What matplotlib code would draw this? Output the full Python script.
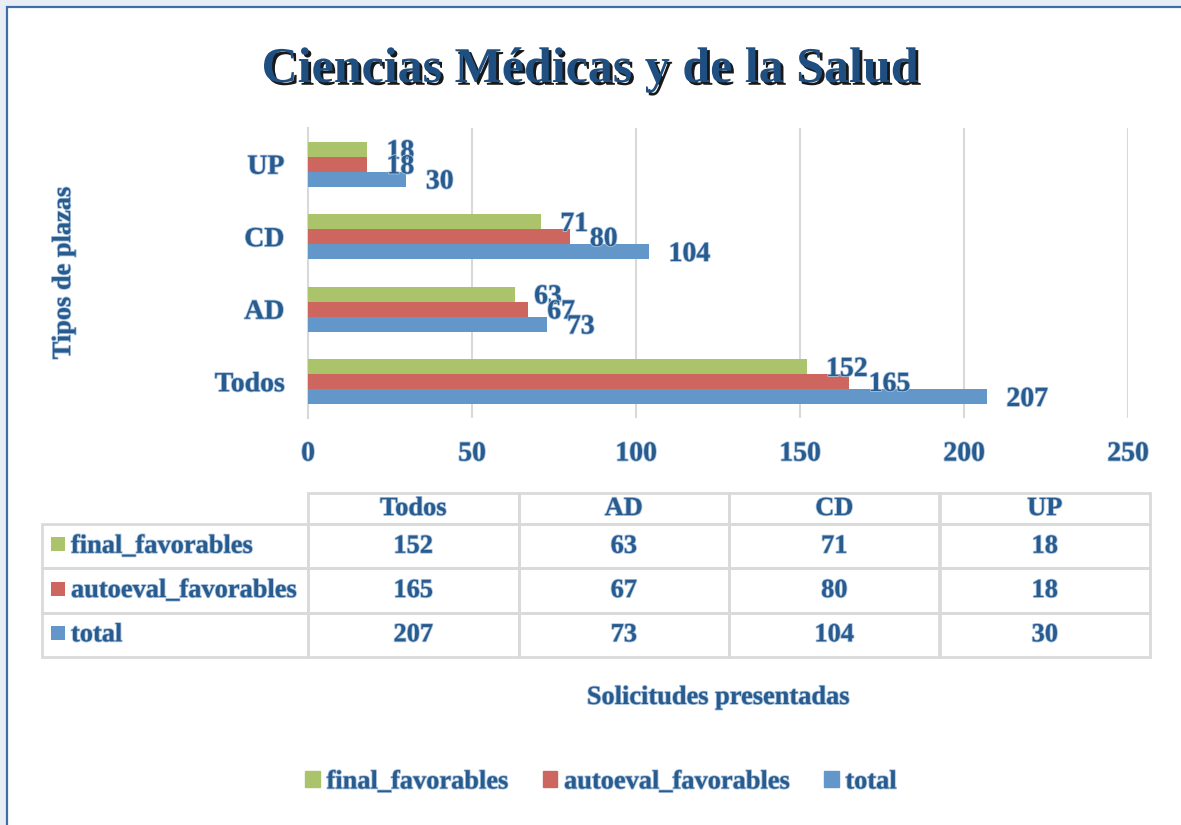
#%% Ciencias Médicas y de la Salud - solicitudes por tipo de plaza
import numpy as np
import matplotlib.pyplot as plt
import matplotlib.patches as mpatches
import matplotlib.patheffects as pe

#%% Data
categorias = ['Todos', 'AD', 'CD', 'UP']
final_favorables = [152, 63, 71, 18]
autoeval_favorables = [165, 67, 80, 18]
total = [207, 73, 104, 30]
series = ['final_favorables', 'autoeval_favorables', 'total']
x_ticks = [0, 50, 100, 150, 200, 250]

#%% Style
plt.rcParams['font.family'] = ['Liberation Serif', 'DejaVu Serif']
plt.rcParams['font.weight'] = 'bold'
plt.rcParams['axes.labelweight'] = 'bold'
txt_col = '#285B8E'
colores = {'final_favorables': '#ABC46B',
           'autoeval_favorables': '#CD665F',
           'total': '#6396C9'}
glow = [pe.withStroke(linewidth=1.2, foreground='#A9C2DD')]

fig = plt.figure(figsize=(11.81, 8.25), dpi=100)
fig.patch.set_facecolor('#E9EEF6')
# white chart area with blue frame (right/bottom run off the picture)
frame = mpatches.Rectangle((7 / 1181, -0.1), 1.2, 1.1 - 7 / 825,
                           transform=fig.transFigure, facecolor='white',
                           edgecolor='#3D6FA5', linewidth=1.6, zorder=-10)
fig.patches.append(frame)

ax = fig.add_axes([308 / 1181, 1 - 418 / 825, 820 / 1181, 290 / 825])

y = np.arange(len(categorias))
h = 0.207
ax.barh(y + h, final_favorables, height=h, color=colores['final_favorables'], zorder=3)
ax.barh(y, autoeval_favorables, height=h, color=colores['autoeval_favorables'], zorder=3)
ax.barh(y - h, total, height=h, color=colores['total'], zorder=3)

# data labels
for vals, off in [(final_favorables, h), (autoeval_favorables, 0), (total, -h)]:
    for yi, v in zip(y, vals):
        ax.annotate(str(v), (v, yi + off), xytext=(14, -2), textcoords='offset points',
                    ha='left', va='center', fontsize=20, color=txt_col,
                    path_effects=glow, zorder=4)

ax.set_xlim(0, 250)
ax.set_ylim(-0.5, 3.5)
ax.set_xticks(x_ticks)
ax.set_yticks(y)
ax.set_yticklabels(categorias)
ax.tick_params(axis='both', length=0, labelsize=20, labelcolor=txt_col)
ax.tick_params(axis='x', pad=17)
ax.tick_params(axis='y', pad=17)
for lab in ax.get_xticklabels() + ax.get_yticklabels():
    lab.set_path_effects(glow)
ax.grid(axis='x', color='#D9D9D9', linewidth=1.5, zorder=0)
for s in ['top', 'right', 'bottom']:
    ax.spines[s].set_visible(False)
ax.spines['left'].set_color('#D9D9D9')
ax.spines['left'].set_linewidth(1.5)

ax.set_ylabel('Tipos de plazas', fontsize=19, color=txt_col, path_effects=glow)
ax.yaxis.set_label_coords(-0.284, 0.5)
ax.set_xlabel('Solicitudes presentadas', fontsize=19, color=txt_col, path_effects=glow)
ax.xaxis.set_label_coords(0.5, (418 - 686) / 290)

#%% Data table under the axis
filas = [[s] + [str(v) for v in vals]
         for s, vals in zip(series, [final_favorables, autoeval_favorables, total])]
tabla = ax.table(cellText=filas, colLabels=[''] + categorias,
                 colWidths=[266, 210.5, 210.5, 210.5, 210.5],
                 cellLoc='center',
                 bbox=[(42 - 308) / 820, (418 - 657) / 290, 1108 / 820, 164 / 290])
tabla.auto_set_font_size(False)
for (r, c), cell in tabla.get_celld().items():
    cell.set_edgecolor('#DADADA')
    cell.set_linewidth(2)
    cell.set_facecolor('none')
    cell.get_text().set_fontsize(19)
    cell.get_text().set_color(txt_col)
    cell.get_text().set_path_effects(glow)
    if r == 0:
        cell.set_height(cell.get_height() * 31 / 44)
        if c == 0:
            cell.visible_edges = ''
    if c == 0 and r > 0:
        cell.get_text().set_ha('left')
        cell.PAD = 0.109

fig.canvas.draw()
# legend keys inside the row label cells
for r, s in enumerate(series, start=1):
    cell = tabla[r, 0]
    kx = cell.get_x() + 9 / 820
    ky = cell.get_y() + cell.get_height() / 2 - 5 / 290
    ax.add_patch(mpatches.Rectangle((kx, ky), 14 / 820, 14 / 290, transform=ax.transAxes,
                                    facecolor=colores[s], edgecolor='none', clip_on=False))

#%% Title and legend
fig.text(0.5, 1 - 82 / 825, 'Ciencias Médicas y de la Salud', ha='center', va='baseline',
         fontsize=36, color='#1F4E80',
         path_effects=[pe.SimplePatchShadow(offset=(2, -2), shadow_rgbFace='black', alpha=0.9),
                       pe.Normal()])

handles = [mpatches.Patch(color=colores[s]) for s in series]
leg = fig.legend(handles, series, loc='center', bbox_to_anchor=(601 / 1181, 1 - 782 / 825),
                 ncol=3, frameon=False, fontsize=19, handlelength=0.55, handleheight=0.55,
                 handletextpad=0.25, columnspacing=1.3)
for t in leg.get_texts():
    t.set_color(txt_col)
    t.set_path_effects(glow)

fig.savefig('out.png', dpi=100, facecolor=fig.get_facecolor())
